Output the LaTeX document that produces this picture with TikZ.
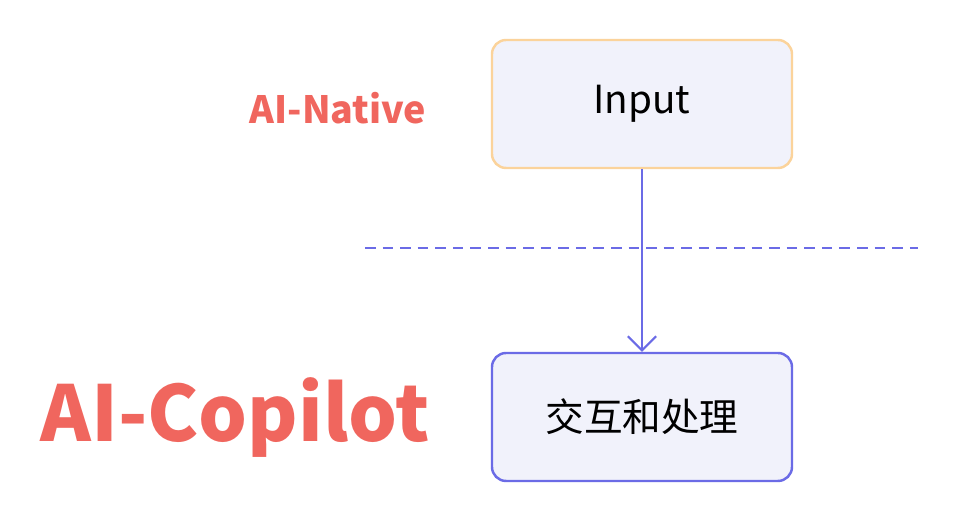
\documentclass[tikz,border=0pt]{standalone}
\usepackage{fontspec}
\setmainfont{Noto Sans CJK SC}
\usepackage{xcolor}
\usetikzlibrary{arrows.meta,positioning}
\definecolor{boxfill}{HTML}{F1F2FB}
\definecolor{boxorange}{HTML}{FBD39B}
\definecolor{boxblue}{HTML}{6B6BE6}
\definecolor{labelred}{HTML}{F0665E}

\begin{document}
\begin{tikzpicture}[
            box/.style={draw, rectangle, rounded corners=4pt, line width=0.7pt, fill=boxfill,
                 minimum width=3cm, minimum height=1.28cm, align=center, font=\fontsize{11}{12}\selectfont},
            tag/.style={text=labelred, font=\bfseries}
            ]
            \useasboundingbox (0,0) rectangle (9.6,5.23);

            % Nodes with manual coordinates
            \node[box, draw=boxorange] (inp) at (6.42,4.19) {\raisebox{-0.8mm}{Input}};
            \node[box, draw=boxblue] (proc) at (6.42,1.06) {\raisebox{-0.3mm}{交互和处理}};
            \node[tag, font=\bfseries\fontsize{10.7}{12}\selectfont] (native) at (3.38,4.15) {AI-Native};
            \node[tag, font=\bfseries\fontsize{21.9}{26}\selectfont] (copilot) at (2.35,1.06) {AI-Copilot};
            \coordinate (dl) at (3.65,2.75);
            \coordinate (dr) at (9.18,2.75);

            % Arrows
            \draw[boxblue, dash pattern=on 3pt off 2pt, line width=0.6pt] (dl) -- (dr);
            \draw[boxblue, line width=0.6pt, -{Straight Barb[length=4pt,width=8pt]}] (inp.south) -- (proc.north);
        \end{tikzpicture}
\end{document}
